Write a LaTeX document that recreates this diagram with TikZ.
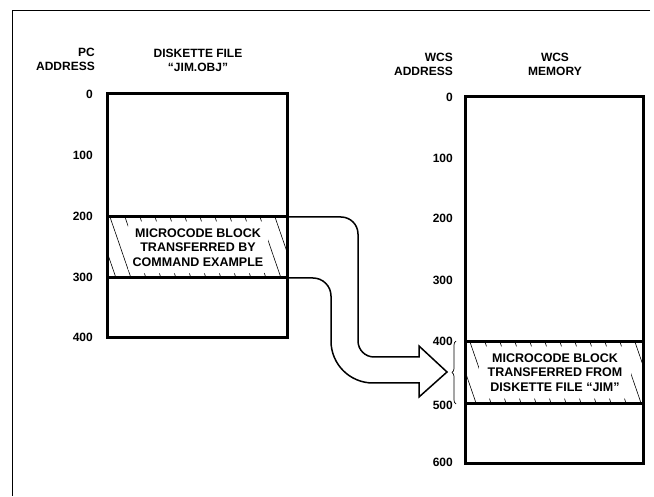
\documentclass[tikz,border=0pt]{standalone}
\usepackage{fontspec}
\setmainfont{Liberation Sans}
\usetikzlibrary{decorations.pathreplacing}
\begin{document}
\begin{tikzpicture}[x=1pt,y=-1pt,
  font=\fontsize{12}{14}\selectfont\bfseries,
  frame/.style={line width=1pt},
  box/.style={line width=3pt},
  hatch/.style={line width=0.6pt},
  num/.style={inner sep=0pt, anchor=east},
  head/.style={inner sep=0pt, align=center},
  headr/.style={inner sep=0pt, align=right, anchor=east},
  blocktext/.style={fill=white, rounded corners=6pt, inner sep=0pt, align=center,
     font=\fontsize{12.5}{14.5}\selectfont\bfseries},
  arrowshape/.style={line width=1.5pt, line join=miter},
  bracestyle/.style={line width=0.7pt, decorate, decoration={brace, amplitude=4pt}}]
\useasboundingbox (0,0) rectangle (654,497);

% frame
\draw[frame] (650,11) -- (12,11) -- (12,496);

% ---- left column headings
\node[headr] (pcaddr) at (95,59) {PC\\ADDRESS};
\node[head] (dfile) at (198,60.5) {DISKETTE FILE\\``JIM.OBJ''};

% left numbers
\node[num] (p0) at (93,94) {0};
\node[num] (p100) at (93,155) {100};
\node[num] (p200) at (93,216) {200};
\node[num] (p300) at (93,277) {300};
\node[num] (p400) at (93,337) {400};

% left block hatching
\begin{scope}
  \clip (107,217) rectangle (287,278);
  \foreach \x in {80,95,...,290} \draw[hatch] (\x,217) -- (\x+21,278);
\end{scope}
\node[blocktext, minimum width=140pt, minimum height=52pt] (blkA) at (198,247.5)
  {MICROCODE BLOCK\\TRANSFERRED BY\\COMMAND EXAMPLE};

% left box
\draw[box] (107,94) rectangle (287,338);
\draw[box] (107,217) -- (287,217);
\draw[box] (107,278) -- (287,278);
\coordinate (a1) at (287,217);
\coordinate (a2) at (287,278);

% ---- right column headings
\node[headr] (wcsaddr) at (453,64) {WCS\\ADDRESS};
\node[head] (wcsmem) at (555,64) {WCS\\MEMORY};

% right numbers
\node[num] (w0) at (453,97) {0};
\node[num] (w100) at (453,158) {100};
\node[num] (w200) at (453,218) {200};
\node[num] (w300) at (453,280) {300};
\node[num] (w400) at (453,341) {400};
\node[num] (w500) at (453,405) {500};
\node[num] (w600) at (453,462) {600};

% right block hatching
\begin{scope}
  \clip (465,342) rectangle (643,403);
  \foreach \x in {440,455,...,645} \draw[hatch] (\x,342) -- (\x+21,403);
\end{scope}
\node[blocktext, minimum width=152pt, minimum height=52pt] (blkB) at (555,372.5)
  {MICROCODE BLOCK\\TRANSFERRED FROM\\DISKETTE FILE ``JIM''};

% right box
\draw[box] (465,97) rectangle (643,463);
\draw[box] (465,342) -- (643,342);
\draw[box] (465,403) -- (643,403);

% ---- broad transfer arrow
\draw[arrowshape] (a1) -- (341,217) .. controls (350.4,217) and (358,224.6) .. (358,234)
  -- (358,341) .. controls (358,349.8) and (365.2,357) .. (374,357)
  -- (419,357) -- (419,346) -- (447,372) -- (419,397) -- (419,383)
  -- (373,383) .. controls (349.8,383) and (331,364.2) .. (331,341)
  -- (331,296) .. controls (331,286.1) and (322.9,278) .. (313,278) -- (a2);

% brace
\coordinate (br1) at (456,404);
\coordinate (br2) at (456,341);
\draw[bracestyle] (br1) -- (br2);
\end{tikzpicture}
\end{document}
